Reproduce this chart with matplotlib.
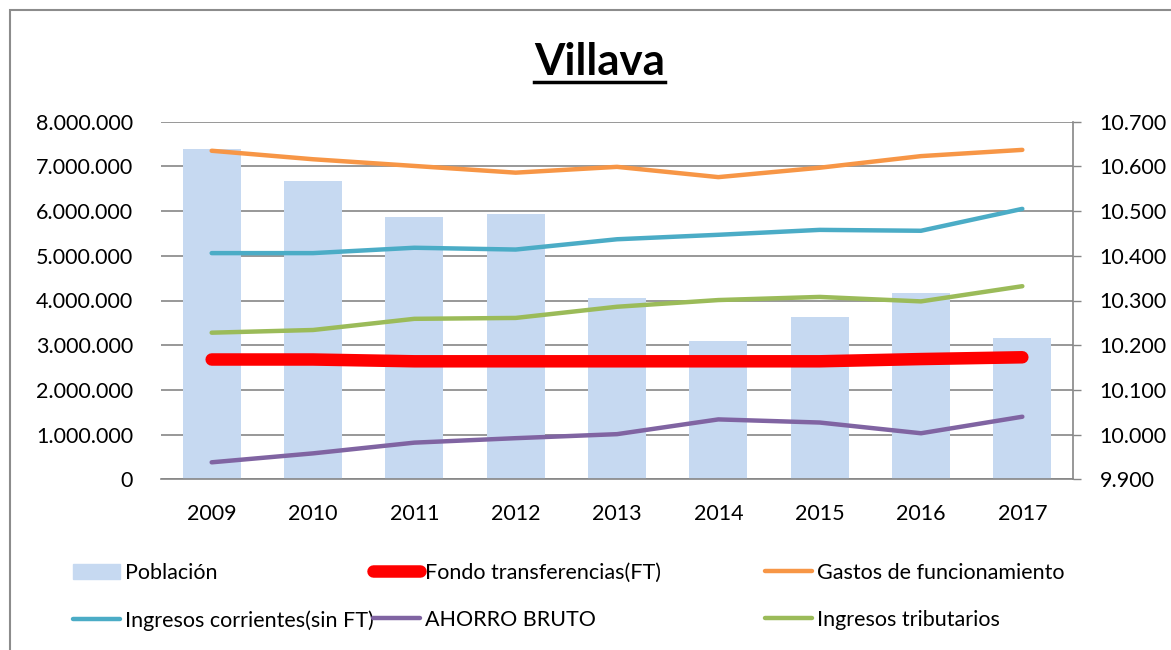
import matplotlib
matplotlib.use("Agg")
from matplotlib import pyplot as plt
from matplotlib.lines import Line2D
from matplotlib.patches import Rectangle
from matplotlib.ticker import FuncFormatter
import numpy as np

# data
years = ['2009', '2010', '2011', '2012', '2013', '2014', '2015', '2016', '2017']
poblacion = [10640, 10567, 10486, 10494, 10306, 10210, 10264, 10316, 10216]
fondo_ft = [2680000, 2680000, 2640000, 2640000, 2640000, 2640000, 2640000, 2690000, 2730000]
gastos_func = [7350000, 7160000, 7010000, 6860000, 6990000, 6760000, 6970000, 7230000, 7370000]
ingresos_corr = [5060000, 5060000, 5180000, 5140000, 5370000, 5470000, 5580000, 5560000, 6050000]
ahorro_bruto = [380000, 580000, 820000, 920000, 1010000, 1340000, 1270000, 1030000, 1400000]
ingresos_trib = [3280000, 3340000, 3590000, 3610000, 3860000, 4010000, 4080000, 3980000, 4320000]

plt.rcParams['font.family'] = ['Lato', 'DejaVu Sans']
grey = '#868686'
fs = 15.5

def dotted(v, pos=None):
    return f"{int(round(v)):,}".replace(',', '.')

fig = plt.figure(figsize=(11.71, 6.5), dpi=100)
fig.patches.append(Rectangle((10 / 1171, -0.1), 1.2, 1.1 - 10 / 650, transform=fig.transFigure,
                             fill=False, edgecolor='#8c8c8c', linewidth=1.5))

ax = fig.add_axes([161 / 1171, 1 - 479.3 / 650, (1073 - 161) / 1171, (479.3 - 121.7) / 650])
ax2 = ax.twinx()
x = np.arange(len(years))

# bars on the main axes (right scale) so the lines sit on top
ax.bar(x, poblacion, width=0.57, color='#c6d9f1', zorder=2)
ax.set_ylim(9900, 10700)
ax.set_xlim(-0.5, len(years) - 0.5)
ax.yaxis.tick_right()
ax.yaxis.set_major_formatter(FuncFormatter(dotted))
ax.set_yticks(np.arange(9900, 10701, 100))
ax.tick_params(axis='y', direction='out', length=6, width=1, color=grey, pad=13, labelsize=fs)
ax.set_xticks(x)
ax.set_xticklabels(years)
ax.tick_params(axis='x', length=0, pad=18, labelsize=fs)
ax.grid(axis='y', color=grey, linewidth=1.2)
ax.set_axisbelow(True)
for s in ['top', 'left']:
    ax.spines[s].set_visible(False)
for s in ['right', 'bottom']:
    ax.spines[s].set_visible(True)
    ax.spines[s].set_color(grey)
    ax.spines[s].set_linewidth(1.2)

ax2.yaxis.tick_left()
ax2.set_ylim(0, 8000000)
ax2.set_yticks(np.arange(0, 8000001, 1000000))
ax2.yaxis.set_major_formatter(FuncFormatter(dotted))
ax2.tick_params(axis='y', length=0, pad=20, labelsize=fs)
for s in ax2.spines.values():
    s.set_visible(False)

l_fondo, = ax2.plot(x, fondo_ft, color='#ff0000', linewidth=9, solid_capstyle='round')
l_gastos, = ax2.plot(x, gastos_func, color='#f79646', linewidth=3.2, solid_capstyle='round')
l_corr, = ax2.plot(x, ingresos_corr, color='#4bacc6', linewidth=3.2, solid_capstyle='round')
l_ahorro, = ax2.plot(x, ahorro_bruto, color='#8064a2', linewidth=3.2, solid_capstyle='round')
l_trib, = ax2.plot(x, ingresos_trib, color='#9bbb59', linewidth=3.2, solid_capstyle='round')
bar_handle = Rectangle((0, 0), 1, 1, color='#c6d9f1')

# one legend per column, placed where the picture has them
columns = [
    (73, [bar_handle, l_corr], ['Población', 'Ingresos corrientes(sin FT)']),
    (373, [l_fondo, l_ahorro], ['Fondo transferencias(FT)', 'AHORRO BRUTO']),
    (765, [l_gastos, l_trib], ['Gastos de funcionamiento', 'Ingresos tributarios']),
]
for xpix, hs, ls in columns:
    fig.legend(hs, ls, loc='upper left', bbox_to_anchor=(xpix / 1171, 1 - 563 / 650),
               frameon=False, fontsize=fs, handlelength=2.2, handletextpad=0.2,
               labelspacing=1.25, borderpad=0, borderaxespad=0)

title = fig.text(599.5 / 1171, 1 - 75 / 650, 'Villava', ha='center', va='baseline',
                 fontsize=31.5, fontweight='bold')
fig.canvas.draw()
bb = title.get_window_extent()
uy = 1 - 82 / 650
fig.add_artist(Line2D([bb.x0 / 1171, bb.x1 / 1171], [uy, uy], transform=fig.transFigure,
                      color='black', linewidth=2.5))

fig.savefig('out.png', dpi=100)
